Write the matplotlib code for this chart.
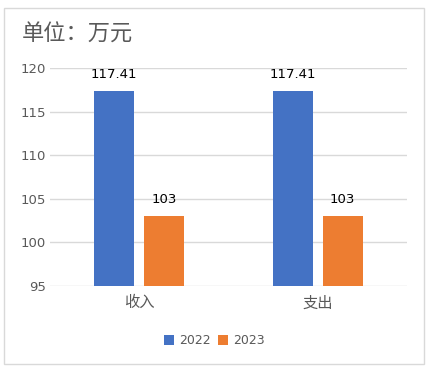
import matplotlib
matplotlib.use("Agg")
import matplotlib.pyplot as plt
from matplotlib.patches import Rectangle
import numpy as np

plt.rcParams['font.family'] = ['DejaVu Sans', 'Noto Sans CJK SC']

categories = ["收入", "支出"]
years = ["2022", "2023"]
values_2022 = [117.41, 117.41]
values_2023 = [103, 103]
labels_2022 = ["117.41", "117.41"]
labels_2023 = ["103", "103"]
colors = ["#4472C4", "#ED7D31"]

fig = plt.figure(figsize=(4.32, 3.72), dpi=100)
fig.patches.append(Rectangle((4 / 432, 8 / 372), 420 / 432, 356 / 372,
                             transform=fig.transFigure, fill=False,
                             edgecolor="#D9D9D9", linewidth=1.0))

ax = fig.add_axes([50 / 432, 1 - 286 / 372, 357 / 432, 218 / 372])
x = np.arange(len(categories))
w = 0.224
off = 0.14
b1 = ax.bar(x - off, values_2022, w, color=colors[0], label=years[0], zorder=3)
b2 = ax.bar(x + off, values_2023, w, color=colors[1], label=years[1], zorder=3)

for bars, labs in ((b1, labels_2022), (b2, labels_2023)):
    for r, t in zip(bars, labs):
        ax.text(r.get_x() + r.get_width() / 2, r.get_height() + 1.15, t,
                ha="center", va="bottom", fontsize=9.5, color="#000000")

ax.set_xlim(-0.5, 1.5)
ax.set_ylim(95, 120)
ax.set_yticks([95, 100, 105, 110, 115, 120])
ax.set_xticks(x)
ax.set_xticklabels(categories, fontsize=11, color="#595959",
                   family=['Noto Sans CJK SC', 'DejaVu Sans'])
ax.tick_params(axis="y", labelsize=9.5, colors="#595959", length=0, pad=3)
ax.tick_params(axis="x", length=0, pad=6)
ax.grid(axis="y", color="#D9D9D9", linewidth=1, zorder=0)
for s in ax.spines.values():
    s.set_visible(False)

fig.text(22 / 432, 1 - 34 / 372, "单位：万元", fontsize=16, color="#595959",
         ha="left", va="center", family=['Noto Sans CJK SC', 'DejaVu Sans'])

fig.legend(handles=[b1, b2], labels=years, loc="center",
           bbox_to_anchor=(214 / 432, 1 - 341 / 372), ncol=2, frameon=False,
           fontsize=9, handlelength=0.8, handleheight=0.8, handletextpad=0.4,
           columnspacing=0.6, labelcolor="#595959")

fig.savefig("out.png", dpi=100)
